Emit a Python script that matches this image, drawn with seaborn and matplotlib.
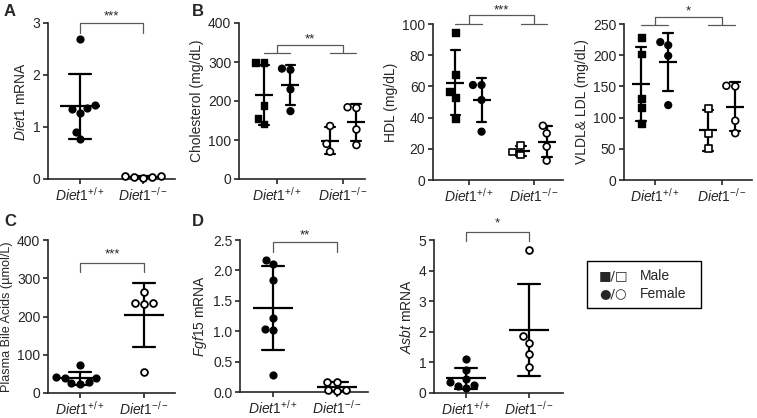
import numpy as np
import pandas as pd
import seaborn as sns
import matplotlib.pyplot as plt
from matplotlib.patches import Rectangle

# -------------------------------
# Data
# -------------------------------
genotypes = ["WT", "KO"]
tick_labels = [r"$\mathit{Diet1}^{+/+}$", r"$\mathit{Diet1}^{-/-}$"]
sexes = ["Male", "Female"]

# A - Diet1 mRNA
diet1_wt = [2.70, 1.42, 1.34, 1.27, 1.37, 0.90, 0.76]
diet1_ko = [0.05, 0.04, 0.03, 0.02, 0.05]

# B - Cholesterol (mg/dL)
chol_wt_m = [298, 298, 188, 156, 141]
chol_wt_f = [283, 280, 230, 174]
chol_ko_m = [136, 90, 70]
chol_ko_f = [184, 182, 127, 87]

# B - HDL (mg/dL)
hdl_wt_m = [94.7, 67.8, 56.6, 53.0, 39.5]
hdl_wt_f = [60.9, 60.9, 51.3, 31.0]
hdl_ko_m = [22, 18, 16]
hdl_ko_f = [34.8, 29.9, 21.4, 12.4]

# B - VLDL & LDL (mg/dL)
vldl_wt_m = [229, 202, 131, 116, 90]
vldl_wt_f = [216, 221, 199, 120]
vldl_ko_m = [114, 74, 50]
vldl_ko_f = [150, 151, 95, 75]

# C - Plasma bile acids (umol/L)
ba_wt = [73, 41, 40, 38, 28, 24, 25]
ba_ko = [263, 235, 232, 235, 54]

# D - Fgf15 mRNA
fgf_wt = [2.10, 2.17, 1.85, 1.21, 1.03, 1.02, 0.28]
fgf_ko = [0.17, 0.17, 0.03, 0.02, 0.04]

# D - Asbt mRNA
asbt_wt = [1.12, 0.76, 0.47, 0.35, 0.26, 0.15, 0.23]
asbt_ko = [4.66, 1.86, 1.65, 1.27, 0.84]

# -------------------------------
# Style
# -------------------------------
sns.set_style("ticks")
plt.rcParams["font.family"] = ["Liberation Sans", "DejaVu Sans"]
plt.rcParams["mathtext.fontset"] = "custom"
plt.rcParams["mathtext.it"] = "Liberation Sans:italic"
plt.rcParams["mathtext.rm"] = "Liberation Sans"
plt.rcParams["font.size"] = 10
plt.rcParams["axes.linewidth"] = 1.2
plt.rcParams["xtick.major.width"] = 1.2
plt.rcParams["ytick.major.width"] = 1.2
plt.rcParams["xtick.major.size"] = 3.5
plt.rcParams["ytick.major.size"] = 3.5
plt.rcParams["xtick.labelsize"] = 10
plt.rcParams["ytick.labelsize"] = 10
plt.rcParams["axes.labelsize"] = 9.6

BR = "0.35"  # bracket colour
DOT = 4.9


def style_axis(ax, xlim, ylim, yticks, ylabel, fmt=None, label_size=None):
    ax.set_xlim(*xlim)
    ax.set_ylim(*ylim)
    ax.set_yticks(yticks)
    if fmt:
        ax.set_yticklabels([fmt.format(t) for t in yticks])
    ax.set_xticks([0, 1])
    ax.set_xticklabels(tick_labels)
    ax.set_xlabel("")
    ax.set_ylabel(ylabel, labelpad=3, fontsize=label_size)
    ax.spines["top"].set_visible(False)
    ax.spines["right"].set_visible(False)
    ax.tick_params(axis="x", pad=1.5)
    ax.tick_params(axis="y", pad=2)


def simple_panel(ax, wt, ko, xlim, ylim, yticks, ylabel, stars, br, fmt=None,
                 label_size=None):
    df = pd.DataFrame({"genotype": ["WT"] * len(wt) + ["KO"] * len(ko),
                       "value": wt + ko})
    sns.swarmplot(data=df[df.genotype == "WT"], x="genotype", y="value",
                  order=genotypes, color="black", edgecolor="black",
                  linewidth=1.0, size=DOT, clip_on=False, ax=ax)
    sns.swarmplot(data=df[df.genotype == "KO"], x="genotype", y="value",
                  order=genotypes, color="white", edgecolor="black",
                  linewidth=1.3, size=DOT, clip_on=False, ax=ax)
    sns.pointplot(data=df, x="genotype", y="value", order=genotypes,
                  errorbar="sd", color="black", markers="_", markersize=29,
                  markeredgewidth=1.6, linestyle="none", capsize=0.34,
                  err_kws={"linewidth": 1.6}, ax=ax)
    style_axis(ax, xlim, ylim, yticks, ylabel, fmt, label_size)
    y_top, y_leg, y_star = br
    ax.plot([0, 0, 1, 1], [y_leg, y_top, y_top, y_leg], color=BR, lw=0.9,
            clip_on=False)
    ax.text(0.5, y_star, stars, ha="center", va="center", fontsize=9.5,
            clip_on=False)


def sex_panel(ax, wt_m, wt_f, ko_m, ko_f, xlim, ylim, yticks, ylabel, stars,
              br, ko_m_marker="s"):
    groups = [("WT", "Male", wt_m), ("WT", "Female", wt_f),
              ("KO", "Male", ko_m), ("KO", "Female", ko_f)]
    df = pd.concat([pd.DataFrame({"genotype": g, "sex": s, "value": v})
                    for g, s, v in groups], ignore_index=True)
    for g, s, _ in groups:
        fc = "black" if g == "WT" else "white"
        mk = "o" if s == "Female" else ("s" if g == "WT" else ko_m_marker)
        sub = df[(df.genotype == g) & (df.sex == s)]
        sns.swarmplot(data=sub, x="genotype", y="value", hue="sex",
                      order=genotypes, hue_order=sexes, dodge=True,
                      palette={"Male": fc, "Female": fc}, edgecolor="black",
                      linewidth=1.2 if g == "KO" else 1.0, size=DOT,
                      marker=mk, legend=False, ax=ax)
    sns.pointplot(data=df, x="genotype", y="value", hue="sex",
                  order=genotypes, hue_order=sexes, dodge=0.4,
                  palette={"Male": "black", "Female": "black"},
                  errorbar="sd", markers="_", markersize=13,
                  markeredgewidth=1.6, linestyle="none", capsize=0.15,
                  err_kws={"linewidth": 1.6}, legend=False, ax=ax)
    style_axis(ax, xlim, ylim, yticks, ylabel)
    y_grp, y_top, y_star = br
    for c in [0, 1]:
        ax.plot([c - 0.2, c + 0.2], [y_grp, y_grp], color=BR, lw=0.9,
                clip_on=False)
    ax.plot([0, 0, 1, 1], [y_grp, y_top, y_top, y_grp], color=BR, lw=0.9,
            clip_on=False)
    ax.text(0.5, y_star, stars, ha="center", va="center", fontsize=9.5,
            clip_on=False)


# -------------------------------
# Figure
# -------------------------------
W, H = 757, 418
fig = plt.figure(figsize=(W / 100, H / 100), dpi=100)


def px_axes(left, right, top, bottom):
    return fig.add_axes([left / W, 1 - bottom / H, (right - left) / W,
                         (bottom - top) / H])


axA = px_axes(48, 175, 23, 179)
axChol = px_axes(239, 365, 23, 179)
axHdl = px_axes(433, 563, 24, 180)
axVldl = px_axes(624, 752, 24, 180)
axC = px_axes(48, 175, 240, 393)
axFgf = px_axes(240, 368, 240, 392)
axAsbt = px_axes(434, 563, 240, 393)

simple_panel(axA, diet1_wt, diet1_ko, (-0.51, 1.51), (0, 3), [0, 1, 2, 3],
             r"$\mathit{Diet1}$ mRNA", "***", (3.0, 2.8, 3.12))

sex_panel(axChol, chol_wt_m, chol_wt_f, chol_ko_m, chol_ko_f,
          (-0.58, 1.33), (0, 400), [0, 100, 200, 300, 400],
          "Cholesterol (mg/dL)", "**", (323, 344, 358), ko_m_marker="o")
sex_panel(axHdl, hdl_wt_m, hdl_wt_f, hdl_ko_m, hdl_ko_f,
          (-0.545, 1.45), (0, 100), [0, 20, 40, 60, 80, 100],
          "HDL (mg/dL)", "***", (100, 106, 109))
sex_panel(axVldl, vldl_wt_m, vldl_wt_f, vldl_ko_m, vldl_ko_f,
          (-0.46, 1.45), (0, 250), [0, 50, 100, 150, 200, 250],
          "VLDL& LDL (mg/dL)", "*", (248, 261, 270))

simple_panel(axC, ba_wt, ba_ko, (-0.5, 1.48), (0, 400),
             [0, 100, 200, 300, 400], "Plasma Bile Acids (\u00b5mol/L)",
             "***", (341, 317, 362), label_size=9.1)
simple_panel(axFgf, fgf_wt, fgf_ko, (-0.52, 1.48), (0, 2.5),
             [0, 0.5, 1.0, 1.5, 2.0, 2.5], r"$\mathit{Fgf15}$ mRNA", "**",
             (2.46, 2.31, 2.58), fmt="{:.1f}")
simple_panel(axAsbt, asbt_wt, asbt_ko, (-0.51, 1.54), (0, 5),
             [0, 1, 2, 3, 4, 5], r"$\mathit{Asbt}$ mRNA", "*",
             (5.27, 4.98, 5.55))

# panel letters
for letter, x, y in [("A", 4, 12), ("B", 192, 12), ("C", 4, 222),
                     ("D", 192, 222)]:
    fig.text(x / W, 1 - y / H, letter, fontsize=12, fontweight="bold",
             ha="left", va="center")

# sex legend box
fig.patches.append(Rectangle((587 / W, 1 - 308 / H), 114 / W, 47 / H,
                             transform=fig.transFigure, fill=False,
                             edgecolor="black", linewidth=1.0))
fig.text(599 / W, 1 - 276 / H, "\u25a0/\u25a1", fontsize=9.5, va="center",
         family=["DejaVu Sans"])
fig.text(599 / W, 1 - 294 / H, "\u25cf/\u25cb", fontsize=9.5, va="center",
         family=["DejaVu Sans"])
fig.text(640 / W, 1 - 276 / H, "Male", fontsize=10, va="center")
fig.text(640 / W, 1 - 294 / H, "Female", fontsize=10, va="center")

fig.savefig("out.png", dpi=100)
